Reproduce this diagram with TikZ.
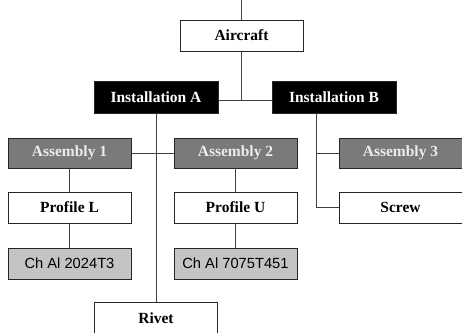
\documentclass[tikz,border=0pt]{standalone}
\usepackage{fontspec}
\setmainfont{Liberation Serif}
\newfontfamily\armsans{Liberation Sans}
\definecolor{asmfill}{HTML}{7A7A7A}
\definecolor{asmtext}{HTML}{ECECEC}
\definecolor{matfill}{HTML}{C4C4C4}
\definecolor{linkgray}{HTML}{404040}
\begin{document}
\begin{tikzpicture}[x=1pt,y=-1pt,
  box/.style={draw=black!85, line width=0.9pt, minimum width=123pt, minimum height=31pt,
    inner sep=0pt, font=\fontsize{15.5}{17}\selectfont\bfseries, fill=white},
  instbox/.style={box, fill=black, text=white, minimum width=124pt, minimum height=32pt},
  asmbox/.style={box, fill=asmfill, text=asmtext, minimum height=30pt},
  matbox/.style={box, fill=matfill, font=\armsans\fontsize{14.7}{16}\selectfont},
  link/.style={draw=linkgray, line width=1pt}]
  \useasboundingbox (0,0) rectangle (462,332);

  % tree nodes
  \node[box]     (aircraft) at (241.5,35.5) {Aircraft};
  \node[instbox] (instA)    at (156,97)     {Installation A};
  \node[instbox] (instB)    at (334,97)     {Installation B};
  \node[asmbox]  (asm1)     at (69.5,153)   {Assembly 1};
  \node[asmbox]  (asm2)     at (235.5,153)  {Assembly 2};
  \node[asmbox]  (asm3)     at (400.5,153)  {Assembly 3};
  \node[box]     (profL)    at (69.5,207.5) {Profile L};
  \node[box]     (profU)    at (235.5,207.5){Profile U};
  \node[box]     (screw)    at (400.5,207.5){Screw};
  \node[matbox]  (mat1)     at (69.5,263.5) {Ch Al 2024T3};
  \node[matbox]  (mat2)     at (235.5,263.5){Ch Al 7075T451};
  \node[box]     (rivet)    at (156,318)    {Rivet};

  % junction points
  \coordinate (top) at (241.5,0);
  \coordinate (j1)  at (241.5,100);
  \coordinate (bB)  at (316,113);

  % connectors
  \draw[link] (top) -- (aircraft.north);
  \draw[link] (aircraft.south) -- (j1);
  \draw[link] (instA.east |- j1) -- (instB.west |- j1);
  \draw[link] (instA.south) -- (rivet.north);
  \draw[link] (asm1.east) -- (asm2.west);
  \draw[link] (bB) |- (screw.west);
  \draw[link] (asm3.west) -- (asm3.west -| bB);
  \draw[link] (asm1.south) -- (profL.north);
  \draw[link] (profL.south) -- (mat1.north);
  \draw[link] (asm2.south) -- (profU.north);
  \draw[link] (profU.south) -- (mat2.north);
\end{tikzpicture}
\end{document}
